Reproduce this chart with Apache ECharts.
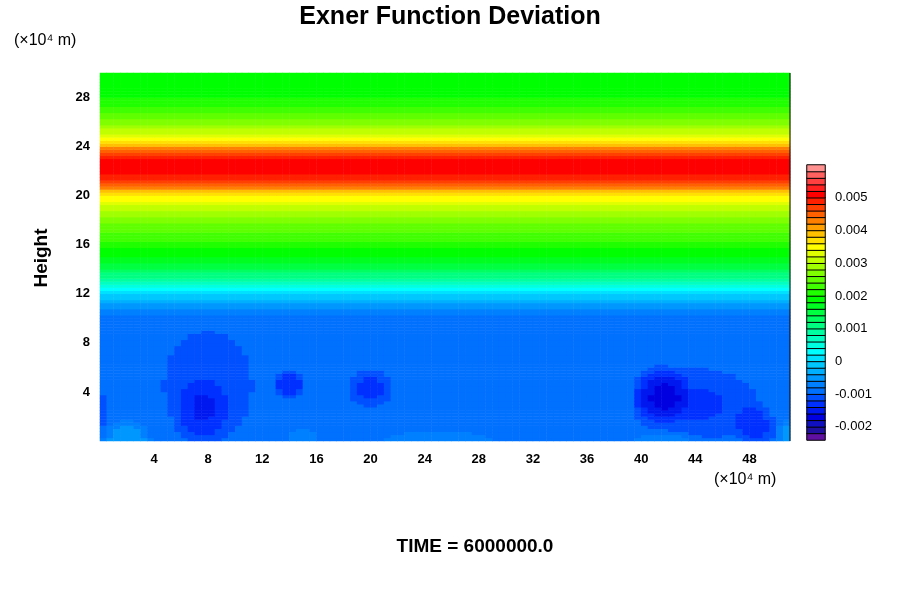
<!DOCTYPE html>
<html>
<head>
<meta charset="utf-8">
<script src="https://cdn.jsdelivr.net/npm/echarts@6/dist/echarts.min.js"></script>
<style>html,body{margin:0;background:#fff}#main{width:900px;height:600px}</style>
</head>
<body>
<div id="main"></div>
<script>
/**数据 */
// 垂直廓线（高度 ×10^4 m，数值）
const profileHeights = [0, 9.5, 10, 10.5, 11, 11.5, 12, 12.5, 13, 14, 15, 16, 17, 18, 19, 20, 20.5, 21, 21.5, 22.2, 23, 23.5, 24, 24.5, 25, 26, 27, 28, 30];
const profileValues  = [-0.0009, -0.0009, -0.00085, -0.0007, -0.0005, -0.0002, 0.0000, 0.0003, 0.0008, 0.0014, 0.0018, 0.0021, 0.0024, 0.0027, 0.0031, 0.0036, 0.0041, 0.0046, 0.0049, 0.0051, 0.0050, 0.0046, 0.0041, 0.0036, 0.0032, 0.0027, 0.0023, 0.0020, 0.0019];
// 近地面扰动 [x, y, 幅度, x半径, y半径]
const blobs = [
  [8, 4.5, -0.0003, 4, 5.5],
  [7.5, 2.3, -0.0003, 2.2, 2.8],
  [14, 4.6, -0.0005, 1.3, 1.3],
  [20, 4.3, -0.0004, 1.8, 1.8],
  [41.5, 3.8, -0.00055, 2.3, 2.6],
  [44, 3, -0.00035, 5.5, 3.5],
  [48.5, 1.2, -0.0004, 1.7, 2],
  [0, 2.5, -0.0003, 0.8, 1.5],
  [2, 0, 0.0005, 2, 2],
  [15, 0, 0.0003, 1.5, 1.2],
  [25, 0, 0.0003, 5, 1],
  [42, 0, 0.0003, 3, 1],
  [51, 0.5, 0.0004, 1, 1.5]
];
const binMin = -0.0024, binStep = 0.0002;
const binColors = ['#6010a0','#2010a0','#1010c0','#0000e0','#0018f0','#0030ff','#0050ff','#0070ff',
  '#0080ff','#0098ff','#00b0ff','#00c8ff','#00e0ff','#00ffff','#00ffe0','#00ffc0','#00ffa0','#00ff80',
  '#00ff60','#00ff40','#00ff20','#00ff00','#20ff00','#40ff00','#60ff00','#80ff00','#a0ff00','#c0ff00',
  '#e0ff00','#ffff00','#ffe000','#ffc000','#ffa000','#ff8000','#ff6000','#ff4000','#ff2000','#ff0000',
  '#ff2020','#ff4040','#ff6060','#ff9090'];
const colorbarLabels = [-0.002, -0.001, 0, 0.001, 0.002, 0.003, 0.004, 0.005];

const NX = 102, NY = 120, DX = 0.5, DY = 0.25;
function profileAt(y) {
  for (let i = 1; i < profileHeights.length; i++) {
    if (y <= profileHeights[i]) {
      const t = (y - profileHeights[i - 1]) / (profileHeights[i] - profileHeights[i - 1]);
      return profileValues[i - 1] + t * (profileValues[i] - profileValues[i - 1]);
    }
  }
  return profileValues[profileValues.length - 1];
}
let xCats = [], yCats = [], field = [];
for (let i = 0; i < NX; i++) xCats.push(i);
for (let j = 0; j < NY; j++) yCats.push(j);
for (let i = 0; i < NX; i++) {
  const x = (i + 0.5) * DX;
  for (let j = 0; j < NY; j++) {
    const y = (j + 0.5) * DY;
    let v = profileAt(y);
    blobs.forEach(b => {
      const d2 = Math.pow((x - b[0]) / b[3], 2) + Math.pow((y - b[1]) / b[4], 2);
      if (d2 < 1) v += b[2] * (1 - d2);
    });
    field.push([i, j, v]);
  }
}
let pieces = [], barData = [], barCats = [];
binColors.forEach((c, k) => {
  const lo = binMin + k * binStep;
  pieces.push({ gte: lo - 1e-9, lt: lo + binStep - 1e-9, color: c });
  barCats.push(k);
  barData.push([0, k, lo + binStep / 2]);
});

const font = 'Liberation Sans';
let myChart = echarts.init(document.getElementById('main'));
myChart.setOption({
  animation: false,
  textStyle: { fontFamily: font },
  title: [
    { text: 'Exner Function Deviation', left: 445, top: 0, textAlign: 'center',
      textStyle: { fontSize: 25, fontWeight: 'bold', color: '#000', fontFamily: font } },
    { text: 'TIME = 6000000.0', left: 470, top: 532, textAlign: 'center',
      textStyle: { fontSize: 19, fontWeight: 'bold', color: '#000', fontFamily: font } }
  ],
  graphic: [
    { type: 'text', left: 14, top: 33, style: { text: '(×10⁴ m)', font: '16px ' + font, fill: '#000' } },
    { type: 'text', left: 714, top: 472, style: { text: '(×10⁴ m)', font: '16px ' + font, fill: '#000' } },
    { type: 'text', x: 42, y: 258, rotation: Math.PI / 2,
      style: { text: 'Height', font: 'bold 19px ' + font, fill: '#000', align: 'center', verticalAlign: 'middle' } }
  ],
  visualMap: { type: 'piecewise', show: false, pieces: pieces, seriesIndex: [0, 1], dimension: 2 },
  grid: [
    { left: 100, top: 73, width: 690, height: 368 },
    { left: 807, top: 165, width: 18, height: 275 }
  ],
  xAxis: [
    { type: 'category', data: xCats, gridIndex: 0, show: false },
    { type: 'value', gridIndex: 0, position: 'bottom', min: 0, max: 51, interval: 4,
      axisLine: { show: false }, axisTick: { show: false }, splitLine: { show: false },
      axisLabel: { fontWeight: 'bold', fontSize: 13, color: '#000', margin: 12, showMaxLabel: false,
        formatter: v => v === 0 ? '' : v } },
    { type: 'category', data: [0], gridIndex: 1, show: false }
  ],
  yAxis: [
    { type: 'category', data: yCats, gridIndex: 0, show: false },
    { type: 'value', gridIndex: 0, position: 'left', min: 0, max: 30, interval: 4,
      axisLine: { show: false }, axisTick: { show: false }, splitLine: { show: false },
      axisLabel: { fontWeight: 'bold', fontSize: 13, color: '#000', margin: 10, showMaxLabel: false,
        formatter: v => v === 0 ? '' : v } },
    { type: 'category', data: barCats, gridIndex: 1, show: false },
    { type: 'value', gridIndex: 1, position: 'right', min: binMin, max: binMin + binColors.length * binStep,
      axisLine: { show: false }, axisTick: { show: false }, splitLine: { show: false },
      axisLabel: { customValues: colorbarLabels, fontSize: 13, color: '#000', margin: 10,
        formatter: v => String(Math.round(v * 1000) / 1000) } }
  ],
  series: [
    { type: 'heatmap', xAxisIndex: 0, yAxisIndex: 0, data: field, progressive: 0 },
    { type: 'heatmap', xAxisIndex: 2, yAxisIndex: 2, data: barData,
      itemStyle: { borderColor: '#000', borderWidth: 1 } },
    { type: 'line', xAxisIndex: 1, yAxisIndex: 1, data: [[51, 0], [51, 30]], symbol: 'none',
      lineStyle: { color: '#000', width: 1 }, silent: true }
  ]
});
</script>
</body>
</html>
